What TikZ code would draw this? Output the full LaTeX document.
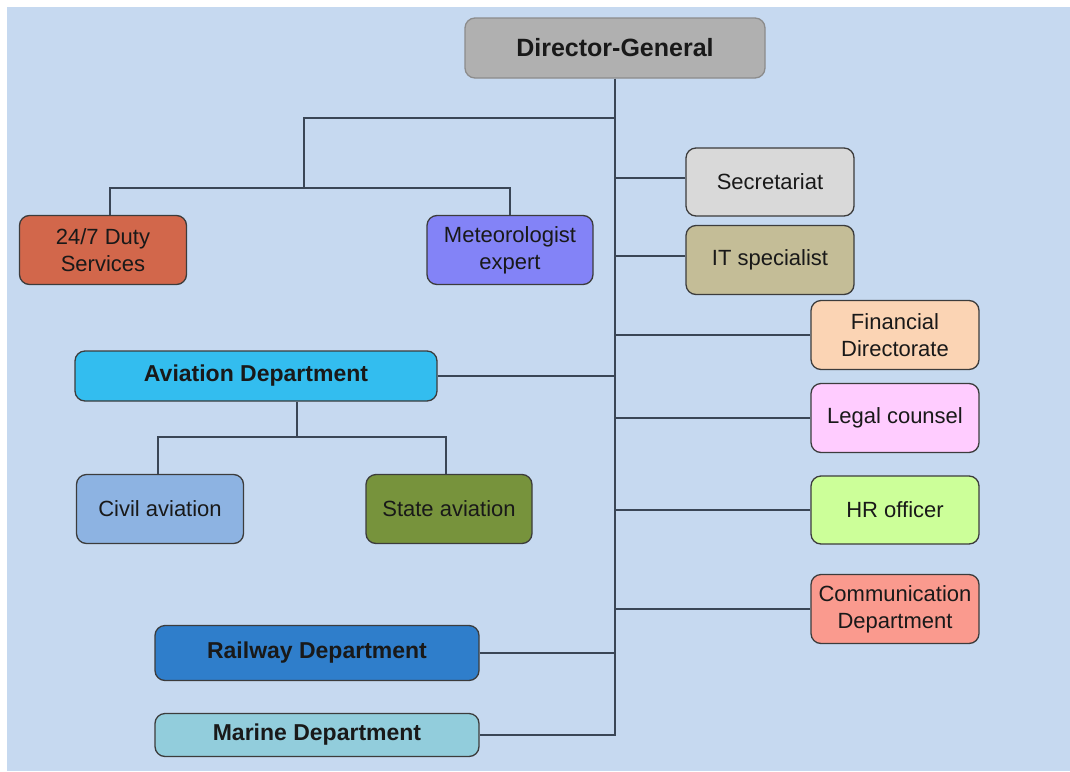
\documentclass[tikz,border=0pt]{standalone}
\usepackage{fontspec}
\setmainfont{Liberation Sans}
\definecolor{bgc}{HTML}{C6D9F0}
\definecolor{linec}{HTML}{3A4656}
\definecolor{boxborder}{HTML}{3C3C3C}
\definecolor{dgfill}{HTML}{B0B0B0}
\definecolor{dgborder}{HTML}{8C8C8C}
\definecolor{dutyfill}{HTML}{D2674B}
\definecolor{metfill}{HTML}{8383F7}
\definecolor{secfill}{HTML}{D9D9D9}
\definecolor{itfill}{HTML}{C4BD97}
\definecolor{finfill}{HTML}{FBD4B4}
\definecolor{avifill}{HTML}{33BDEF}
\definecolor{civfill}{HTML}{8DB3E2}
\definecolor{statefill}{HTML}{77933C}
\definecolor{legalfill}{HTML}{FFCCFF}
\definecolor{hrfill}{HTML}{CCFF99}
\definecolor{commfill}{HTML}{FA9A8E}
\definecolor{railfill}{HTML}{2F7ECB}
\definecolor{marfill}{HTML}{92CDDC}
\begin{document}
\begin{tikzpicture}[x=1pt,y=-1pt,
  box/.style={rectangle, rounded corners=10pt, draw=boxborder, line width=1.3pt,
    inner sep=0pt, align=center, text=black!90,
    font=\fontsize{22}{27}\selectfont},
  boldbox/.style={box, font=\fontsize{23}{27}\selectfont\bfseries},
  conn/.style={draw=linec, line width=1.8pt}]
\fill[bgc] (7,7) rectangle (1070,771);
\useasboundingbox (0,0) rectangle (1070,771);

\node[box, draw=dgborder, fill=dgfill, font=\fontsize{25}{28}\selectfont\bfseries,
  minimum width=300pt, minimum height=60pt] (dg) at (615,48) {Director-General};

\node[box, fill=dutyfill, minimum width=167pt, minimum height=69pt] (duty) at (103,250) {24/7 Duty\\Services};
\node[box, fill=metfill, minimum width=166pt, minimum height=69pt] (met) at (510,250) {Meteorologist\\expert};

\node[box, fill=secfill, minimum width=168pt, minimum height=68pt] (sec) at (770,182) {Secretariat};
\node[box, fill=itfill, minimum width=168pt, minimum height=69pt] (it) at (770,260) {IT specialist};
\node[box, fill=finfill, minimum width=168pt, minimum height=69pt] (fin) at (895,335) {Financial\\Directorate};
\node[box, fill=legalfill, minimum width=168pt, minimum height=69pt] (legal) at (895,418) {Legal counsel};
\node[box, fill=hrfill, minimum width=168pt, minimum height=68pt] (hr) at (895,510) {HR officer};
\node[box, fill=commfill, minimum width=168pt, minimum height=69pt] (comm) at (895,609) {Communication\\Department};

\node[boldbox, fill=avifill, minimum width=362pt, minimum height=50pt] (avi) at (256,376) {Aviation Department};
\node[box, fill=civfill, minimum width=167pt, minimum height=69pt] (civ) at (160,509) {Civil aviation};
\node[box, fill=statefill, minimum width=166pt, minimum height=69pt] (state) at (449,509) {State aviation};

\node[boldbox, fill=railfill, minimum width=324pt, minimum height=55pt] (rail) at (317,653) {Railway Department};
\node[boldbox, fill=marfill, minimum width=324pt, minimum height=43pt] (mar) at (317,735) {Marine Department};

\coordinate (t1) at (304,118);
\coordinate (t2) at (304,188);
\coordinate (d1) at (110,188);
\coordinate (a1) at (297,437);
\coordinate (c1) at (158,437);
\coordinate (s1) at (446,437);
\coordinate (secy) at (0,178);
\coordinate (ity) at (0,256);

% main spine
\draw[conn] (dg.south) -- (dg.south |- mar.east) -- (mar.east);
% top-left branch
\draw[conn] (dg.south |- t1) -- (t1) -- (t2);
\draw[conn] (d1 |- duty.north) -- (d1) -- (t2) -| (met.north);
% right branches
\draw[conn] (sec.west |- secy) -- (dg.south |- secy);
\draw[conn] (it.west |- ity) -- (dg.south |- ity);
\draw[conn] (fin.west) -- (fin.west -| dg.south);
\draw[conn] (legal.west) -- (legal.west -| dg.south);
\draw[conn] (hr.west) -- (hr.west -| dg.south);
\draw[conn] (comm.west) -- (comm.west -| dg.south);
% left departments
\draw[conn] (avi.east) -- (avi.east -| dg.south);
\draw[conn] (rail.east) -- (rail.east -| dg.south);
% aviation children
\draw[conn] (a1 |- avi.south) -- (a1);
\draw[conn] (c1 |- civ.north) -- (c1) -- (s1) -- (s1 |- state.north);
\end{tikzpicture}
\end{document}
